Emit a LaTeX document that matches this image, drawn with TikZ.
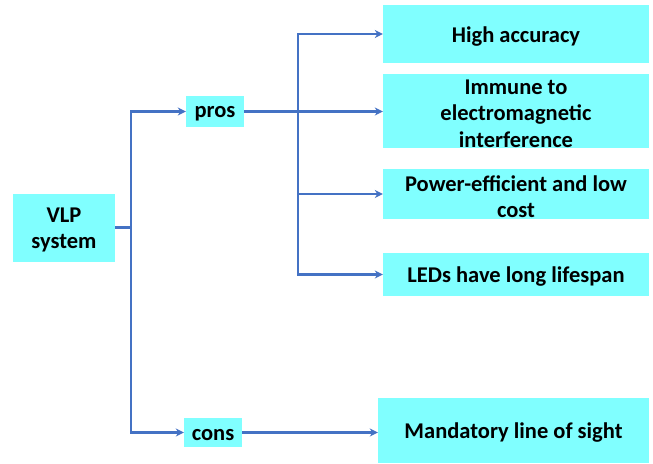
\documentclass[tikz,border=0pt]{standalone}
\usepackage{fontspec}
\setmainfont{Carlito}
\usetikzlibrary{arrows.meta}
\definecolor{boxfill}{RGB}{128,255,255}
\definecolor{linkblue}{RGB}{68,114,196}
\begin{document}
\begin{tikzpicture}[x=1pt,y=-1pt,
  box/.style={draw=none,fill=boxfill,inner sep=0pt,
    label={[boxtext]center:#1}},
  boxtext/.style={inner sep=0pt,align=center,yshift=-2.5pt,
    font=\fontsize{22.5}{26.5}\selectfont\bfseries},
  link/.style={draw=linkblue,line width=2.3pt},
  arr/.style={link,-{Stealth[length=8pt,width=8pt]}}]
\useasboundingbox (0,0) rectangle (653,463);
% boxes, each with its text set a little below the middle
\node[box={VLP\\system},minimum width=102pt,minimum height=68pt] (vlp) at (64,227.5) {};
\node[box={pros},minimum width=58pt,minimum height=31pt] (pros) at (215,111.5) {};
\node[box={cons},minimum width=58pt,minimum height=29pt] (cons) at (213,432.5) {};
\node[box={High accuracy},minimum width=266pt,minimum height=58pt] (ha) at (516,34) {};
\node[box={Immune to\\electromagnetic\\interference},minimum width=266pt,minimum height=74pt] (im) at (516,111) {};
\node[box={Power-efficient and low\\cost},minimum width=266pt,minimum height=50pt] (pe) at (516,194) {};
\node[box={LEDs have long lifespan},minimum width=266pt,minimum height=43pt] (led) at (516,274.5) {};
\node[box={Mandatory line of sight},minimum width=271pt,minimum height=65pt] (md) at (513.5,430.5) {};
% first branching
\coordinate (j1) at (131,227.5);
\draw[link] (vlp.east) -- (j1);
\draw[arr] (j1) |- (pros.west);
\draw[arr] (j1) |- (cons.west);
% pros branching
\coordinate (j2) at (298,111.5);
\draw[arr] (pros.east) -- (im.west |- pros.east);
\draw[arr] (j2) |- (ha.west);
\draw[arr] (j2) |- (pe.west);
\draw[arr] (j2) |- (led.west);
% cons
\draw[arr] (cons.east) -- (md.west |- cons.east);
\end{tikzpicture}
\end{document}
